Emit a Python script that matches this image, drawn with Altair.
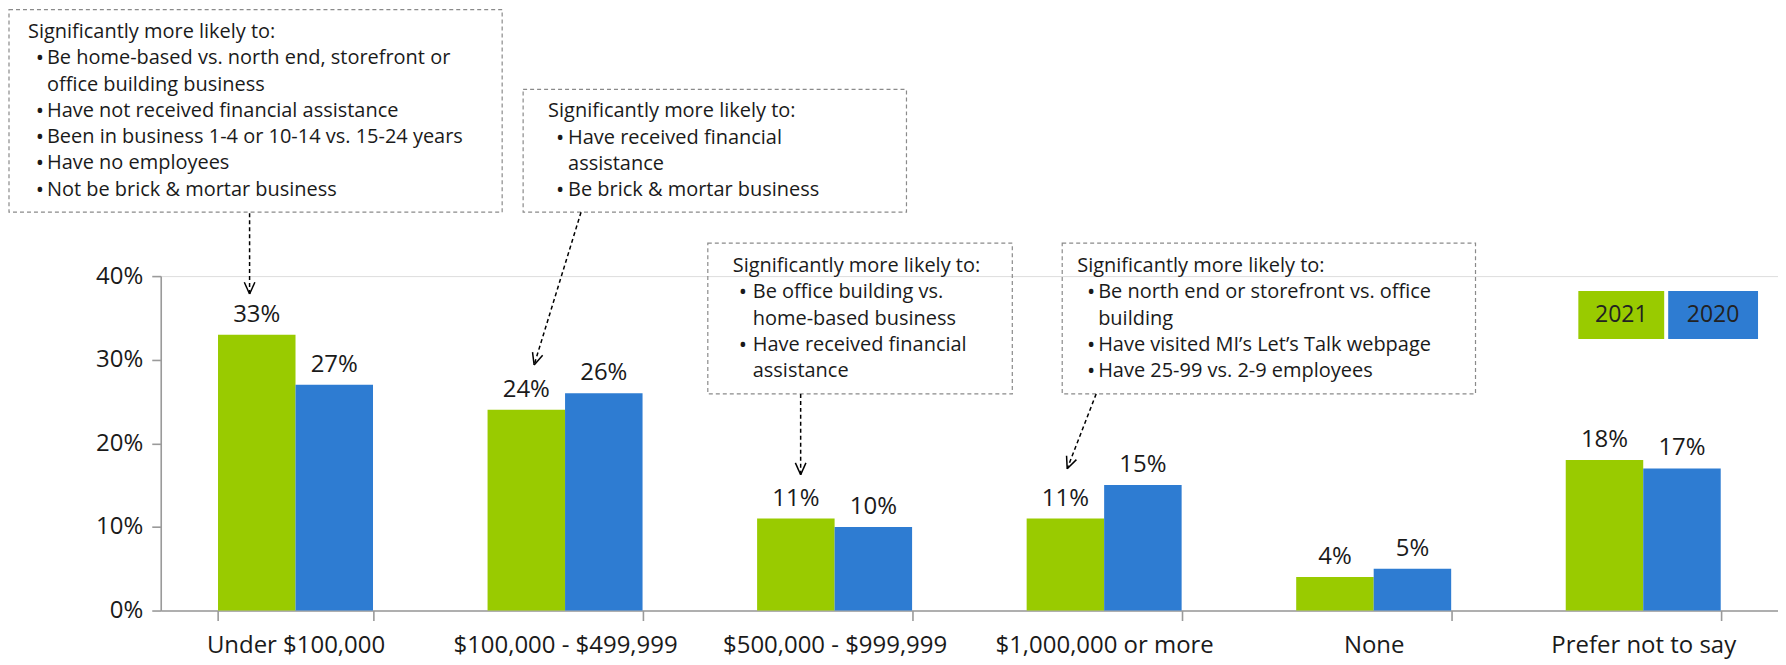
import math
import altair as alt
import pandas as pd

# ---------------- data ----------------
categories = ["Under $100,000", "$100,000 - $499,999", "$500,000 - $999,999",
              "$1,000,000 or more", "None", "Prefer not to say"]
years = ["2021", "2020"]
values_2021 = [33, 24, 11, 11, 4, 18]
values_2020 = [27, 26, 10, 15, 5, 17]
colors = ["#99CB00", "#2E7CD2"]

box1_lines = [("h", "Significantly more likely to:"),
              ("b", "Be home-based vs. north end, storefront or"),
              ("c", "office building business"),
              ("b", "Have not received financial assistance"),
              ("b", "Been in business 1-4 or 10-14 vs. 15-24 years"),
              ("b", "Have no employees"),
              ("b", "Not be brick & mortar business")]
box2_lines = [("h", "Significantly more likely to:"),
              ("b", "Have received financial"),
              ("c", "assistance"),
              ("b", "Be brick & mortar business")]
box3_lines = [("h", "Significantly more likely to:"),
              ("b", "Be office building vs."),
              ("c", "home-based business"),
              ("b", "Have received financial"),
              ("c", "assistance")]
box4_lines = [("h", "Significantly more likely to:"),
              ("b", "Be north end or storefront vs. office"),
              ("c", "building"),
              ("b", "Have visited MI\u2019s Let\u2019s Talk webpage"),
              ("b", "Have 25-99 vs. 2-9 employees")]

# ---------------- layout (page pixels) ----------------
FONT = "Open Sans"
TXT = "#1a1a1a"
AXC = "#9a9a9a"
PLOT_W, PLOT_H = 1620, 335
OX, OY = 160, 275          # page position of plot origin
LINE_H = 26.3
BOX_FS = 20
AX_FS = 24

# box: (left, top, right, bottom, heading x, bullet x, bullet text x, first line y, lines)
boxes = [
    (8, 8, 502, 211, 27, 39, 46, 30.5, box1_lines),
    (523, 88, 907, 211, 548, 560, 568, 110, box2_lines),
    (708, 242, 1013, 393, 733, 743, 753, 265, box3_lines),
    (1063, 242, 1477, 393, 1078, 1092, 1099, 265, box4_lines),
]
arrows = [((249, 212), (249, 293)), ((581, 211), (534, 364)),
          ((801, 393), (801, 474)), ((1097, 393), (1068, 468))]
legend_boxes = [(1580, 290, 1666, 338), (1670, 290, 1760, 338)]


def px(v):
    return v - OX


def py(v):
    return v - OY


# ---------------- tables ----------------
rows = []
for c, a, b in zip(categories, values_2021, values_2020):
    rows.append({"category": c, "year": years[0], "value": a, "label": f"{a}%"})
    rows.append({"category": c, "year": years[1], "value": b, "label": f"{b}%"})
df = pd.DataFrame(rows)

rects, texts = [], []
for (l, t, r, b, hx, bx, tx, y0, lines) in boxes:
    rects.append({"x": px(l), "x2": px(r), "y": py(t), "y2": py(b)})
    for i, (kind, s) in enumerate(lines):
        y = py(y0 + i * LINE_H)
        if kind == "h":
            texts.append({"x": px(hx), "y": y, "text": s, "align": "left"})
        else:
            if kind == "b":
                texts.append({"x": px(bx), "y": y, "text": "\u2022", "align": "center"})
            texts.append({"x": px(tx), "y": y, "text": s, "align": "left"})
rect_df = pd.DataFrame(rects)
text_df = pd.DataFrame(texts)

shafts, heads = [], []
for (sx, sy), (ex, ey) in arrows:
    shafts.append({"x": px(sx), "y": py(sy), "x2": px(ex), "y2": py(ey)})
    dx, dy = ex - sx, ey - sy
    n = math.hypot(dx, dy)
    ux, uy = dx / n, dy / n
    L, ang = 13, math.radians(24)
    for sgn in (1, -1):
        ca, sa = math.cos(sgn * ang), math.sin(sgn * ang)
        bx_ = -(ux * ca - uy * sa)
        by_ = -(ux * sa + uy * ca)
        heads.append({"x": px(ex), "y": py(ey), "x2": px(ex + L * bx_), "y2": py(ey + L * by_)})
shaft_df = pd.DataFrame(shafts)
head_df = pd.DataFrame(heads)

leg_df = pd.DataFrame([
    {"x": px(l), "x2": px(r), "y": py(t), "y2": py(b), "fill": col, "year": yr,
     "cx": px((l + r) / 2), "cy": py((t + b) / 2)}
    for (l, t, r, b), col, yr in zip(legend_boxes, colors, years)
])

# ---------------- chart ----------------
x_enc = alt.X("category:N", sort=categories,
              scale=alt.Scale(paddingInner=0.425, paddingOuter=0.2125),
              axis=alt.Axis(title=None, labelAngle=0, tickBand="extent", tickSize=10,
                            tickColor=AXC, domainColor=AXC, domainWidth=1.6, tickWidth=1.6,
                            labelFont=FONT, labelFontSize=AX_FS, labelColor=TXT,
                            labelPadding=13, labelLimit=0))
xo_enc = alt.XOffset("year:N", sort=years, scale=alt.Scale(paddingInner=0, paddingOuter=0))
y_enc = alt.Y("value:Q", scale=alt.Scale(domain=[0, 40]),
              axis=alt.Axis(title=None, values=[0, 10, 20, 30, 40], labelExpr="datum.value + '%'",
                            grid=False, tickSize=9, tickColor=AXC, domainColor=AXC,
                            domainWidth=1.6, tickWidth=1.6, labelFont=FONT, labelFontSize=AX_FS,
                            labelColor=TXT, labelPadding=9))

bars = alt.Chart(df).mark_bar().encode(
    x=x_enc, xOffset=xo_enc, y=y_enc,
    color=alt.Color("year:N", scale=alt.Scale(domain=years, range=colors), legend=None))

labels = alt.Chart(df).mark_text(dy=-13, baseline="alphabetic", font=FONT, fontSize=AX_FS,
                                 color=TXT).encode(
    x=alt.X("category:N", sort=categories), xOffset=alt.XOffset("year:N", sort=years),
    y="value:Q", text="label:N")

XN = lambda f: alt.X(f, scale=None, axis=None)
YN = lambda f: alt.Y(f, scale=None, axis=None)

box_rects = alt.Chart(rect_df).mark_rect(fillOpacity=0, stroke="#8a8a8a", strokeWidth=1.2,
                                         strokeDash=[4, 3]).encode(
    x=XN("x:Q"), x2="x2:Q", y=YN("y:Q"), y2="y2:Q")

box_text_left = alt.Chart(text_df[text_df["align"] == "left"]).mark_text(
    align="left", baseline="middle", font=FONT, fontSize=BOX_FS, color=TXT).encode(
    x=XN("x:Q"), y=YN("y:Q"), text="text:N")
box_text_bullet = alt.Chart(text_df[text_df["align"] == "center"]).mark_text(
    align="center", baseline="middle", font=FONT, fontSize=BOX_FS + 2, color=TXT).encode(
    x=XN("x:Q"), y=YN("y:Q"), text="text:N")

arrow_shafts = alt.Chart(shaft_df).mark_rule(color="black", strokeWidth=1.5,
                                             strokeDash=[4, 3]).encode(
    x=XN("x:Q"), x2="x2:Q", y=YN("y:Q"), y2="y2:Q")
arrow_heads = alt.Chart(head_df).mark_rule(color="black", strokeWidth=1.5).encode(
    x=XN("x:Q"), x2="x2:Q", y=YN("y:Q"), y2="y2:Q")

legend_rects = alt.Chart(leg_df).mark_rect().encode(
    x=XN("x:Q"), x2="x2:Q", y=YN("y:Q"), y2="y2:Q",
    fill=alt.Fill("fill:N", scale=None))
legend_text = alt.Chart(leg_df).mark_text(align="center", baseline="middle", font=FONT,
                                          fontSize=23, color="#222222").encode(
    x=XN("cx:Q"), y=YN("cy:Q"), text="year:N")

chart = alt.layer(
    bars, labels, box_rects, box_text_left, box_text_bullet,
    arrow_shafts, arrow_heads, legend_rects, legend_text
).properties(
    width=PLOT_W, height=PLOT_H,
    padding={"left": 0, "top": 0, "right": 0, "bottom": 4}
).configure_view(stroke=None).configure(background="white")

chart.save("out.html", embed_options={"renderer": "svg", "actions": False})
